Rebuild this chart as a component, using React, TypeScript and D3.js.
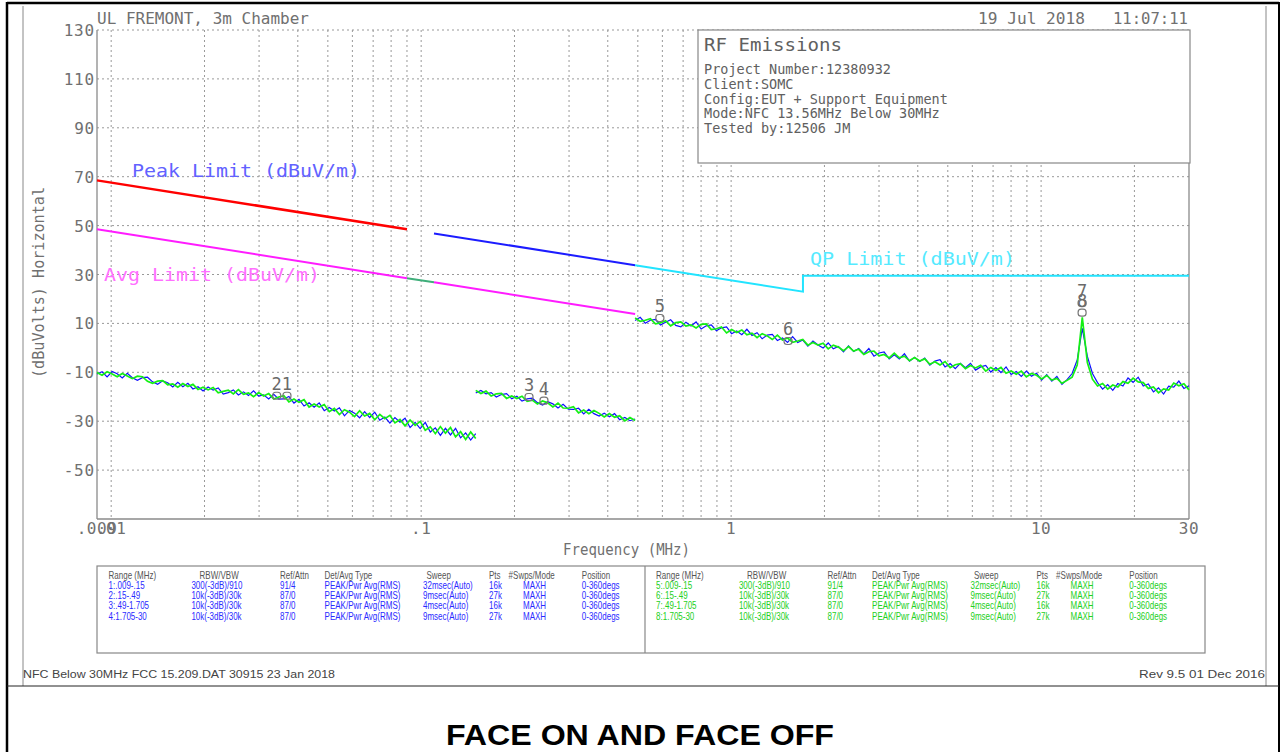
import React from "react";
import * as d3 from "d3";

const W = 1282;
const H = 752;

// ---- axes ----
const freqDomain: [number, number] = [0.009, 30];
const levelDomain: [number, number] = [-70, 130];
const yTickValues = [130, 110, 90, 70, 50, 30, 10, -10, -30, -50];
const xTickLabels = [
  { f: 0.009, label: ".009" },
  { f: 0.01, label: ".01" },
  { f: 0.1, label: ".1" },
  { f: 1, label: "1" },
  { f: 10, label: "10" },
  { f: 30, label: "30" },
];
const gridDecades = [0.01, 0.1, 1, 10];
const gridMultipliers = [1, 2, 3, 4, 5, 6, 7, 8, 9];

// ---- sweep segments (MHz) ----
const segA = { start: 0.009, stop: 0.15 };
const segB = { start: 0.15, stop: 0.49 };
const segC = { start: 0.49, stop: 30 };

// ---- traces (dBuV) ----
const greenA = [-10.1, -11.2, -9.8, -10.7, -11.8, -10.5, -11.5, -12.6, -11.6, -11.8,
  -13.7, -14.5, -13.6, -13.4, -15.1, -14.7, -16.1, -14.6, -15.8, -14.9,
  -17.0, -16.1, -17.2, -16.2, -18.4, -17.8, -17.3, -18.8, -17.1, -19.0,
  -18.4, -20.0, -18.3, -19.7, -18.7, -20.9, -20.1, -19.6, -22.1, -20.9,
  -22.3, -21.2, -24.2, -23.0, -24.2, -23.2, -26.1, -24.8, -27.3, -25.3,
  -26.3, -28.1, -25.7, -27.9, -26.8, -29.4, -27.2, -29.0, -27.6, -30.7,
  -29.3, -31.9, -29.5, -31.7, -30.1, -33.7, -32.3, -35.1, -32.2, -34.9,
  -32.6, -36.4, -34.3, -37.5, -34.4, -37.1];
const blueA = [-10.7, -9.8, -11.9, -9.7, -10.6, -12.3, -10.4, -12.2, -13.3, -12.2,
  -12.0, -13.9, -14.9, -13.5, -14.3, -16.0, -14.1, -15.9, -14.5, -16.8,
  -15.9, -17.6, -16.0, -17.3, -16.4, -18.9, -18.3, -17.2, -19.3, -18.0,
  -19.5, -17.6, -19.7, -19.2, -20.9, -19.0, -21.0, -20.9, -19.9, -22.6,
  -21.1, -23.8, -22.5, -24.3, -22.5, -25.7, -24.4, -25.8, -24.5, -27.8,
  -25.6, -26.7, -28.6, -26.1, -28.5, -26.3, -29.6, -28.3, -30.8, -28.5,
  -30.4, -28.8, -32.6, -30.5, -33.0, -30.5, -34.4, -32.7, -35.8, -32.9,
  -35.6, -32.9, -36.8, -34.8, -37.7, -35.1];
const greenB = [-17.4, -18.7, -17.7, -19.7, -18.8, -18.6, -20.7, -19.7, -20.7, -19.8,
  -21.9, -21.4, -23.0, -21.7, -22.5, -24.2, -22.6, -24.6, -24.7, -24.1,
  -26.6, -25.4, -26.9, -25.6, -26.8, -28.3, -26.9, -28.4, -27.8, -29.9,
  -28.5, -29.7];
const blueB = [-18.5, -17.4, -18.8, -18.3, -20.1, -19.1, -18.7, -20.8, -19.8, -21.8,
  -20.9, -20.6, -22.4, -23.4, -22.0, -22.9, -24.6, -23.1, -25.1, -25.2,
  -24.7, -27.0, -25.1, -26.9, -27.9, -26.7, -28.2, -26.9, -29.4, -28.5,
  -29.8, -29.1];
const greenC = [12.2, 10.8, 11.3, 11.9, 9.8, 10.2, 11.1, 9.0, 10.3, 10.6,
  8.9, 9.4, 8.1, 9.6, 9.8, 7.5, 7.8, 8.5, 6.1, 7.5,
  6.3, 7.3, 5.3, 6.0, 4.2, 5.8, 4.9, 3.4, 5.2, 3.2,
  4.0, 2.3, 2.8, 3.4, 1.1, 2.2, 1.1, 1.9, -0.4, 1.1,
  0.3, -1.2, 0.5, -1.3, -0.6, -2.7, -1.6, -1.3, -3.3, -2.7,
  -4.1, -2.2, -4.1, -3.4, -5.3, -4.0, -5.4, -4.5, -6.7, -5.7,
  -7.0, -5.6, -8.1, -6.9, -6.5, -8.5, -7.2, -8.2, -7.1, -9.5,
  -8.0, -9.3, -8.0, -10.4, -9.5, -10.8, -9.5, -11.9, -10.5, -11.2,
  -12.7, -11.3, -13.2, -12.5, -14.5, -13.3, -12.0, -7.0, 12.5, -6.0,
  -12.8, -15.6, -14.6, -16.9, -15.2, -16.0, -13.8, -14.5, -12.4, -13.9,
  -14.2, -16.6, -16.0, -18.4, -16.8, -17.3, -14.4, -15.5, -14.7, -17.2];
const blueC = [11.2, 12.5, 10.1, 11.3, 11.6, 9.3, 10.5, 11.5, 9.2, 8.6,
  10.5, 8.9, 10.6, 7.7, 9.0, 9.4, 7.0, 8.2, 8.6, 5.8,
  6.9, 5.4, 7.6, 5.1, 6.2, 3.7, 5.2, 5.5, 3.0, 4.0,
  2.2, 4.6, 2.2, 3.2, 0.7, 2.8, 1.2, -0.1, 2.0, -0.4,
  0.6, -1.6, 0.8, -1.5, -0.3, -2.5, -0.3, -3.4, -2.1, -1.7,
  -4.5, -2.8, -4.5, -2.4, -5.4, -3.9, -5.6, -4.2, -7.1, -5.4,
  -4.8, -7.8, -6.4, -8.5, -6.3, -8.1, -6.3, -9.1, -7.8, -7.2,
  -9.9, -8.1, -10.1, -7.8, -10.9, -9.7, -11.7, -9.5, -11.6, -10.4,
  -13.2, -11.0, -13.6, -11.7, -14.9, -13.0, -10.5, -5.0, 8.0, -3.5,
  -10.5, -14.2, -16.9, -15.0, -17.4, -14.6, -15.6, -12.3, -14.1, -12.0,
  -15.6, -14.8, -18.0, -16.4, -18.9, -15.7, -16.1, -13.6, -16.6, -15.5];

// ---- limits [MHz, dBuV/m] ----
const peakLimitLow: [number, number][] = [[0.009, 68.5], [0.09, 48.5]];
const peakLimitMid: [number, number][] = [[0.11, 46.8], [0.49, 33.8]];
const qpLimit: [number, number][] = [[0.49, 33.8], [1.705, 23.0], [1.705, 29.5], [30, 29.5]];
const avgLimitLow: [number, number][] = [[0.009, 48.5], [0.09, 28.5]];
const restrictedLimit: [number, number][] = [[0.09, 28.5], [0.11, 26.8]];
const avgLimitMid: [number, number][] = [[0.11, 26.8], [0.49, 13.8]];

// ---- markers ----
const markerIds = ["1", "2", "3", "4", "5", "6", "7", "8"];
const markerFreqs = [0.0369, 0.0342, 0.2228, 0.249, 0.589, 1.526, 13.56, 13.56];
const markerLevels = [-19.6, -19.6, -20.1, -21.6, 12.2, 2.8, 18.3, 14.4];

// ---- texts ----
const infoLines = [
  "Project Number:12380932",
  "Client:SOMC",
  "Config:EUT + Support Equipment",
  "Mode:NFC 13.56MHz Below 30MHz",
  "Tested by:12506 JM",
];
const tableHeader = ["Range (MHz)", "RBW/VBW", "Ref/Attn", "Det/Avg Type", "Sweep", "Pts", "#Swps/Mode", "Position"];
const tableRowsLeft = [
  ["1:.009-.15", "300(-3dB)/910", "91/4", "PEAK/Pwr Avg(RMS)", "32msec(Auto)", "16k", "MAXH", "0-360degs"],
  ["2:.15-.49", "10k(-3dB)/30k", "87/0", "PEAK/Pwr Avg(RMS)", "9msec(Auto)", "27k", "MAXH", "0-360degs"],
  ["3:.49-1.705", "10k(-3dB)/30k", "87/0", "PEAK/Pwr Avg(RMS)", "4msec(Auto)", "16k", "MAXH", "0-360degs"],
  ["4:1.705-30", "10k(-3dB)/30k", "87/0", "PEAK/Pwr Avg(RMS)", "9msec(Auto)", "27k", "MAXH", "0-360degs"],
];
const tableRowsRight = [
  ["5:.009-.15", "300(-3dB)/910", "91/4", "PEAK/Pwr Avg(RMS)", "32msec(Auto)", "16k", "MAXH", "0-360degs"],
  ["6:.15-.49", "10k(-3dB)/30k", "87/0", "PEAK/Pwr Avg(RMS)", "9msec(Auto)", "27k", "MAXH", "0-360degs"],
  ["7:.49-1.705", "10k(-3dB)/30k", "87/0", "PEAK/Pwr Avg(RMS)", "4msec(Auto)", "16k", "MAXH", "0-360degs"],
  ["8:1.705-30", "10k(-3dB)/30k", "87/0", "PEAK/Pwr Avg(RMS)", "9msec(Auto)", "27k", "MAXH", "0-360degs"],
];

const MONO = "'DejaVu Sans Mono', monospace";
const SANS = "'Liberation Sans', Arial, sans-serif";
const GRAY = "#707070";

const headerX = [108.6, 199.6, 280, 324.6, 426.4, 489, 508.6, 581.8];
const rowX = [108.6, 191.4, 280, 324.6, 423, 489, 523, 581.8];
const halfShift = 547.5;

export default function App() {
  const x = d3.scaleLog().domain(freqDomain).range([97, 1189]);
  const y = d3.scaleLinear().domain(levelDomain).range([519, 30]);
  const [x0, x1] = x.range();
  const [yb, yt] = y.range();
  const line = d3.line<[number, number]>().x((d) => x(d[0])).y((d) => y(d[1]));
  const sweep = (seg: { start: number; stop: number }, vals: number[]): [number, number][] =>
    vals.map((v, i) => [seg.start * Math.pow(seg.stop / seg.start, i / (vals.length - 1)), v]);
  const xGrid = gridDecades
    .flatMap((d) => gridMultipliers.map((m) => +(d * m).toPrecision(3)))
    .filter((f) => f > freqDomain[0] && f < freqDomain[1]);

  const traces = [
    { seg: segA, blue: blueA, green: greenA },
    { seg: segB, blue: blueB, green: greenB },
    { seg: segC, blue: blueC, green: greenC },
  ];

  const tableRow = (cells: string[], xs: number[], yy: number, color: string, key: string) =>
    cells.map((c, i) => (
      <text
        key={key + i}
        transform={`translate(${xs[i]},${yy}) scale(0.8,1)`}
        fontFamily={SANS}
        fontSize={10}
        fill={color}
      >
        {c}
      </text>
    ));

  return (
    <svg
      width={W}
      height={H}
      viewBox={`0 0 ${W} ${H}`}
      style={{ position: "absolute", left: 0, top: 0, background: "#fff" }}
    >
      <rect x={0} y={0} width={W} height={H} fill="#fff" />
      {/* outer frame */}
      <line x1={7} x2={1279} y1={3} y2={3} stroke="#000" strokeWidth={2.5} />
      <line x1={7} x2={7} y1={2} y2={H} stroke="#000" strokeWidth={2.5} />
      <line x1={1279} x2={1279} y1={2} y2={H} stroke="#000" strokeWidth={2} />
      <line x1={23} x2={23} y1={6} y2={686} stroke="#888" strokeWidth={1} />
      <line x1={1266} x2={1266} y1={6} y2={686} stroke="#888" strokeWidth={1} />
      <line x1={7} x2={1279} y1={686} y2={686} stroke="#222" strokeWidth={1} />

      {/* gridlines */}
      {yTickValues.map((v) => (
        <line key={"hg" + v} x1={x0} x2={x1} y1={y(v)} y2={y(v)} stroke="#999" strokeDasharray="2,3" />
      ))}
      {xGrid.map((f) => (
        <line key={"vg" + f} x1={x(f)} x2={x(f)} y1={yt} y2={yb} stroke="#999" strokeDasharray="2,3" />
      ))}
      {/* axes */}
      <line x1={x0} x2={x0} y1={yt} y2={yb} stroke="#8a8a8a" strokeWidth={1.3} />
      <line x1={x1} x2={x1} y1={yt} y2={yb} stroke="#8a8a8a" strokeWidth={1.3} />
      <line x1={x0} x2={x1} y1={yb} y2={yb} stroke="#8a8a8a" strokeWidth={1.3} />

      {/* y tick labels */}
      {yTickValues.map((v) => (
        <text key={"yl" + v} x={95} y={y(v) + 6} textAnchor="end" fontFamily={MONO} fontSize={16} letterSpacing={0.8} fill={GRAY}>
          {v}
        </text>
      ))}
      {/* x tick labels */}
      {xTickLabels.map((t) => (
        <text key={"xl" + t.label} x={x(t.f)} y={534} textAnchor="middle" fontFamily={MONO} fontSize={16} letterSpacing={0.5} fill={GRAY}>
          {t.label}
        </text>
      ))}
      <text x={563} y={555} fontFamily={MONO} fontSize={15} textLength={127} lengthAdjust="spacingAndGlyphs" fill={GRAY}>
        Frequency (MHz)
      </text>
      <text
        transform={`translate(44,378) rotate(-90)`}
        fontFamily={MONO}
        fontSize={15}
        textLength={191}
        lengthAdjust="spacingAndGlyphs"
        fill={GRAY}
      >
        (dBuVolts) Horizontal
      </text>

      {/* header */}
      <text x={97} y={24} fontFamily={MONO} fontSize={15} textLength={212} lengthAdjust="spacingAndGlyphs" fill={GRAY}>
        UL FREMONT, 3m Chamber
      </text>
      <text x={978} y={24} fontFamily={MONO} fontSize={15} textLength={107} lengthAdjust="spacingAndGlyphs" fill={GRAY}>
        19 Jul 2018
      </text>
      <text x={1113} y={24} fontFamily={MONO} fontSize={15} textLength={75} lengthAdjust="spacingAndGlyphs" fill={GRAY}>
        11:07:11
      </text>

      {/* limits */}
      <path d={line(peakLimitLow) || ""} fill="none" stroke="#ff0000" strokeWidth={2.5} />
      <path d={line(peakLimitMid) || ""} fill="none" stroke="#1c1cff" strokeWidth={2} />
      <path d={line(qpLimit) || ""} fill="none" stroke="#22e4ff" strokeWidth={2} />
      <path d={line(avgLimitLow) || ""} fill="none" stroke="#ff1cff" strokeWidth={2} />
      <path d={line(restrictedLimit) || ""} fill="none" stroke="#3fae7a" strokeWidth={2} />
      <path d={line(avgLimitMid) || ""} fill="none" stroke="#ff1cff" strokeWidth={2} />

      {/* legend labels */}
      <text x={132} y={177} fontFamily={MONO} fontSize={17} textLength={228} lengthAdjust="spacingAndGlyphs" fill="#6262ff">
        Peak Limit (dBuV/m)
      </text>
      <text x={104} y={281} fontFamily={MONO} fontSize={17} textLength={216} lengthAdjust="spacingAndGlyphs" fill="#ff70ff">
        Avg Limit (dBuV/m)
      </text>
      <text x={810} y={265} fontFamily={MONO} fontSize={17} textLength={205} lengthAdjust="spacingAndGlyphs" fill="#55eaff">
        QP Limit (dBuV/m)
      </text>

      {/* traces */}
      {traces.map((t, i) => (
        <g key={"tr" + i}>
          <path d={line(sweep(t.seg, t.blue)) || ""} fill="none" stroke="#1010ff" strokeWidth={1.2} />
          <path d={line(sweep(t.seg, t.green)) || ""} fill="none" stroke="#14f014" strokeWidth={1.7} />
        </g>
      ))}

      {/* markers */}
      {markerIds.map((id, i) => {
        const mx = x(markerFreqs[i]);
        const my = y(markerLevels[i]);
        return (
          <g key={"mk" + id}>
            <rect x={mx - 4} y={my - 3.5} width={8} height={7} rx={3} fill="none" stroke="#777" strokeWidth={1.2} />
            <text x={mx} y={my - 6} textAnchor="middle" fontFamily={MONO} fontSize={17} fill="#6a6a6a">
              {id}
            </text>
          </g>
        );
      })}

      {/* info box */}
      <rect x={698} y={30} width={492} height={133} fill="#fff" stroke="#888" strokeWidth={1.2} />
      <text x={704} y={51} fontFamily={MONO} fontSize={17} textLength={138} lengthAdjust="spacingAndGlyphs" fill="#606060">
        RF Emissions
      </text>
      {infoLines.map((s, i) => (
        <text key={"il" + i} x={704} y={74 + i * 14.8} fontFamily={MONO} fontSize={13.5} fill="#606060">
          {s}
        </text>
      ))}

      {/* range table */}
      <rect x={97} y={566} width={1108} height={87} fill="none" stroke="#888" strokeWidth={1.2} />
      <line x1={645} x2={645} y1={566} y2={653} stroke="#888" strokeWidth={1.2} />
      {tableRow(tableHeader, headerX, 579, "#555", "hl")}
      {tableRow(tableHeader, headerX.map((v) => v + halfShift), 579, "#555", "hr")}
      {tableRowsLeft.map((r, ri) => tableRow(r, rowX, 589 + ri * 10.2, "#2a2aff", "l" + ri))}
      {tableRowsRight.map((r, ri) => tableRow(r, rowX.map((v) => v + halfShift), 589 + ri * 10.2, "#22d022", "r" + ri))}

      {/* footer */}
      <text x={23} y={678} fontFamily={SANS} fontSize={10} textLength={312} lengthAdjust="spacingAndGlyphs" fill="#444">
        NFC Below 30MHz FCC 15.209.DAT 30915 23 Jan 2018
      </text>
      <text x={1139} y={678} fontFamily={SANS} fontSize={10} textLength={126} lengthAdjust="spacingAndGlyphs" fill="#444">
        Rev 9.5 01 Dec 2016
      </text>
      <text x={640} y={745} textAnchor="middle" fontFamily={SANS} fontWeight="bold" fontSize={29} textLength={388} lengthAdjust="spacingAndGlyphs" fill="#000">
        FACE ON AND FACE OFF
      </text>
    </svg>
  );
}
